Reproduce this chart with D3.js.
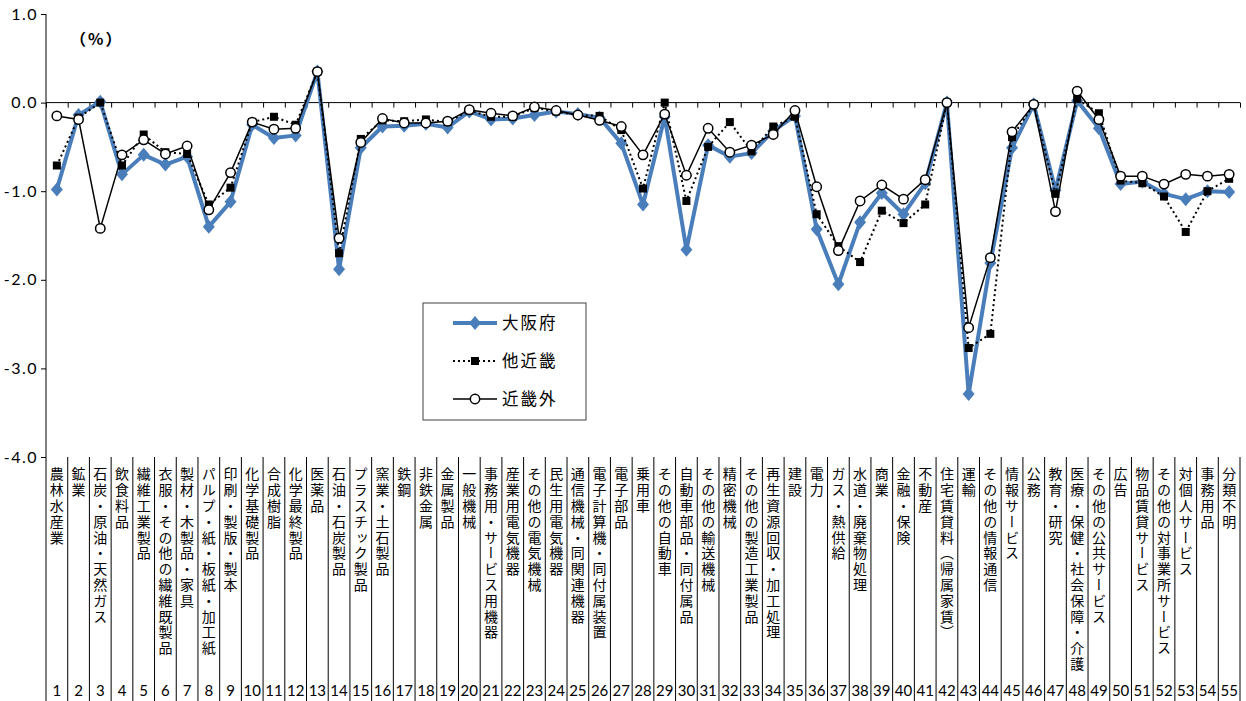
<!DOCTYPE html>
<html>
<head>
<meta charset="utf-8">
<script src="https://cdn.jsdelivr.net/npm/d3@7"></script>
<style>
  body { margin: 0; background: #fff; }
  svg { display: block; }
</style>
</head>
<body>
<div id="chart"></div>
<script>
// categories (1..55)
var categories = [
  "農林水産業", "鉱業", "石炭・原油・天然ガス", "飲食料品", "繊維工業製品",
  "衣服・その他の繊維既製品", "製材・木製品・家具", "パルプ・紙・板紙・加工紙", "印刷・製版・製本", "化学基礎製品",
  "合成樹脂", "化学最終製品", "医薬品", "石油・石炭製品", "プラスチック製品",
  "窯業・土石製品", "鉄鋼", "非鉄金属", "金属製品", "一般機械",
  "事務用・サービス用機器", "産業用電気機器", "その他の電気機械", "民生用電気機器", "通信機械・同関連機器",
  "電子計算機・同付属装置", "電子部品", "乗用車", "その他の自動車", "自動車部品・同付属品",
  "その他の輸送機械", "精密機械", "その他の製造工業製品", "再生資源回収・加工処理", "建設",
  "電力", "ガス・熱供給", "水道・廃棄物処理", "商業", "金融・保険",
  "不動産", "住宅賃貸料（帰属家賃）", "運輸", "その他の情報通信", "情報サービス",
  "公務", "教育・研究", "医療・保健・社会保障・介護", "その他の公共サービス", "広告",
  "物品賃貸サービス", "その他の対事業所サービス", "対個人サービス", "事務用品", "分類不明"
];

// series values (%)
var osaka = [
  -0.98, -0.14, 0.01, -0.81, -0.59, -0.70, -0.61, -1.40, -1.12, -0.25,
  -0.40, -0.37, 0.35, -1.88, -0.51, -0.27, -0.26, -0.24, -0.28, -0.10,
  -0.19, -0.18, -0.14, -0.10, -0.13, -0.17, -0.46, -1.15, -0.16, -1.66,
  -0.48, -0.61, -0.57, -0.32, -0.15, -1.43, -2.05, -1.35, -1.02, -1.26,
  -0.91, 0.00, -3.29, -1.81, -0.51, -0.02, -0.99, 0.02, -0.29, -0.92,
  -0.89, -1.03, -1.09, -1.00, -1.01
];
var otherKinki = [
  -0.71, -0.17, 0.00, -0.71, -0.36, -0.56, -0.58, -1.15, -0.96, -0.22,
  -0.16, -0.25, 0.35, -1.70, -0.41, -0.20, -0.21, -0.19, -0.22, -0.09,
  -0.16, -0.16, -0.06, -0.10, -0.14, -0.15, -0.31, -0.97, 0.00, -1.11,
  -0.50, -0.22, -0.55, -0.27, -0.16, -1.26, -1.62, -1.80, -1.22, -1.36,
  -1.15, 0.00, -2.77, -2.61, -0.39, -0.02, -1.03, 0.04, -0.12, -0.88,
  -0.91, -1.06, -1.46, -1.00, -0.86
];
var outsideKinki = [
  -0.15, -0.19, -1.42, -0.59, -0.42, -0.58, -0.49, -1.21, -0.79, -0.22,
  -0.30, -0.29, 0.35, -1.53, -0.45, -0.18, -0.23, -0.23, -0.21, -0.08,
  -0.12, -0.15, -0.05, -0.09, -0.14, -0.20, -0.27, -0.59, -0.13, -0.82,
  -0.29, -0.56, -0.48, -0.36, -0.09, -0.95, -1.67, -1.11, -0.93, -1.09,
  -0.87, 0.00, -2.54, -1.75, -0.33, -0.02, -1.23, 0.13, -0.19, -0.83,
  -0.83, -0.92, -0.81, -0.83, -0.81
];
var yTicks = [1, 0, -1, -2, -3, -4];
var seriesNames = ["大阪府", "他近畿", "近畿外"];

var chartW = 1246, chartH = 701;
var plotL = 46, plotR = 1240, plotT = 14, plotB = 457;
var blue = "#4a7ebb";
var jpFont = "'Noto Sans CJK JP', sans-serif";
var numFont = "Lato, 'Noto Sans', sans-serif";

var svg = d3.select("#chart").append("svg")
    .attr("width", chartW)
    .attr("height", chartH);

var idx = d3.range(1, categories.length + 1);

var x = d3.scaleBand().domain(idx).range([plotL, plotR]).padding(0);
var xb = d3.scaleLinear().domain([0, categories.length]).range([plotL, plotR]);
var y = d3.scaleLinear().domain([-4, 1]).range([plotB, plotT]);

function cx(i) { return x(i + 1) + x.bandwidth() / 2; }

// y axis
var yAxis = d3.axisLeft(y)
    .tickValues(yTicks)
    .tickSize(5)
    .tickFormat(function(d) { return d.toFixed(1); });

var gy = svg.append("g")
    .attr("transform", "translate(" + plotL + ",0)")
    .call(yAxis);
gy.select(".domain").remove();
gy.selectAll("line").attr("stroke", "#000");
gy.selectAll("text")
    .attr("x", -8)
    .style("font-family", numFont)
    .style("font-size", "16px")
    .style("letter-spacing", "1.5px")
    .attr("fill", "#000");

// axis line at zero, ticks between categories
var xAxis = d3.axisBottom(xb)
    .tickValues(d3.range(0, categories.length + 1))
    .tickSize(5)
    .tickFormat("");
var gx = svg.append("g")
    .attr("transform", "translate(0," + y(0) + ")")
    .call(xAxis);
gx.select(".domain").attr("d", "M" + plotL + ",0H" + plotR).attr("stroke", "#000");
gx.selectAll("line").attr("stroke", "#000");

// vertical line of the value axis, continuing into the label table
svg.append("line")
    .attr("x1", plotL).attr("x2", plotL)
    .attr("y1", plotT).attr("y2", chartH)
    .attr("stroke", "#000");

// separators of category label table
svg.append("g").selectAll("line")
    .data(d3.range(1, categories.length + 1))
    .enter().append("line")
    .attr("x1", function(d) { return xb(d); })
    .attr("x2", function(d) { return xb(d); })
    .attr("y1", plotB)
    .attr("y2", chartH)
    .attr("stroke", "#000");

// category names (vertical)
svg.append("g").selectAll("text")
    .data(categories)
    .enter().append("text")
    .attr("x", function(d, i) { return cx(i); })
    .attr("y", 467)
    .style("writing-mode", "vertical-rl")
    .style("text-orientation", "upright")
    .style("font-family", jpFont)
    .style("font-size", "14px")
    .style("letter-spacing", "1.8px")
    .attr("fill", "#000")
    .text(function(d) { return d; });

// category numbers
svg.append("g").selectAll("text")
    .data(idx)
    .enter().append("text")
    .attr("x", function(d, i) { return cx(i); })
    .attr("y", 696)
    .attr("text-anchor", "middle")
    .style("font-family", numFont)
    .style("font-size", "15px")
    .attr("fill", "#000")
    .text(function(d) { return d; });

// unit
svg.append("text")
    .attr("x", 70)
    .attr("y", 45)
    .style("font-family", jpFont)
    .style("font-size", "16px")
    .style("font-weight", "bold")
    .style("letter-spacing", "2px")
    .text("（%）");

// lines
var line = d3.line()
    .x(function(d, i) { return cx(i); })
    .y(function(d) { return y(d); });

svg.append("path")
    .datum(osaka)
    .attr("fill", "none")
    .attr("stroke", blue)
    .attr("stroke-width", 4)
    .attr("stroke-linejoin", "round")
    .attr("d", line);

svg.append("g").selectAll("path")
    .data(osaka)
    .enter().append("path")
    .attr("transform", function(d, i) { return "translate(" + cx(i) + "," + y(d) + ")"; })
    .attr("d", "M0,-7L6,0L0,7L-6,0Z")
    .attr("fill", blue);

svg.append("path")
    .datum(otherKinki)
    .attr("fill", "none")
    .attr("stroke", "#000")
    .attr("stroke-width", 2)
    .attr("stroke-dasharray", "2,3")
    .attr("d", line);

svg.append("g").selectAll("rect")
    .data(otherKinki)
    .enter().append("rect")
    .attr("x", function(d, i) { return cx(i) - 4; })
    .attr("y", function(d) { return y(d) - 4; })
    .attr("width", 8)
    .attr("height", 8)
    .attr("fill", "#000");

svg.append("path")
    .datum(outsideKinki)
    .attr("fill", "none")
    .attr("stroke", "#000")
    .attr("stroke-width", 1.5)
    .attr("d", line);

svg.append("g").selectAll("circle")
    .data(outsideKinki)
    .enter().append("circle")
    .attr("cx", function(d, i) { return cx(i); })
    .attr("cy", function(d) { return y(d); })
    .attr("r", 4.7)
    .attr("fill", "#fff")
    .attr("stroke", "#000")
    .attr("stroke-width", 1.5);

// legend
var legend = svg.append("g").attr("class", "legend");
legend.append("rect")
    .attr("x", 423).attr("y", 303)
    .attr("width", 163).attr("height", 117)
    .attr("fill", "#fff")
    .attr("stroke", "#404040")
    .attr("stroke-width", 1);

var rows = [323, 361, 399];
// 大阪府
legend.append("line").attr("x1", 453).attr("x2", 497).attr("y1", rows[0]).attr("y2", rows[0])
    .attr("stroke", blue).attr("stroke-width", 4);
legend.append("path").attr("transform", "translate(475," + rows[0] + ")")
    .attr("d", "M0,-7L6,0L0,7L-6,0Z").attr("fill", blue);
// 他近畿
legend.append("line").attr("x1", 453).attr("x2", 497).attr("y1", rows[1]).attr("y2", rows[1])
    .attr("stroke", "#000").attr("stroke-width", 2).attr("stroke-dasharray", "2,3");
legend.append("rect").attr("x", 471).attr("y", rows[1] - 4).attr("width", 8).attr("height", 8)
    .attr("fill", "#000");
// 近畿外
legend.append("line").attr("x1", 453).attr("x2", 497).attr("y1", rows[2]).attr("y2", rows[2])
    .attr("stroke", "#000").attr("stroke-width", 1.5);
legend.append("circle").attr("cx", 475).attr("cy", rows[2]).attr("r", 4.7)
    .attr("fill", "#fff").attr("stroke", "#000").attr("stroke-width", 1.5);

legend.selectAll("text.lbl")
    .data(seriesNames)
    .enter().append("text")
    .attr("class", "lbl")
    .attr("x", 502)
    .attr("y", function(d, i) { return rows[i]; })
    .attr("dy", "0.36em")
    .style("font-family", jpFont)
    .style("font-size", "16.5px")
    .style("letter-spacing", "2px")
    .attr("fill", "#000")
    .text(function(d) { return d; });
</script>
</body>
</html>
